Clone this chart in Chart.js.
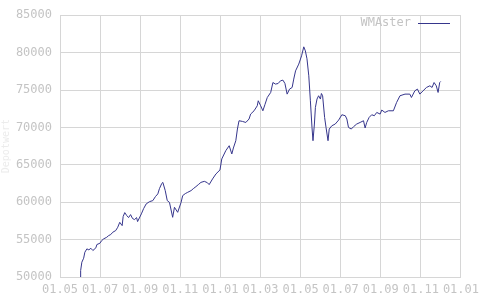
<!DOCTYPE html>
<html>
<head>
<meta charset="utf-8">
<script src="https://cdn.jsdelivr.net/npm/chart.js@4.4.0/dist/chart.umd.min.js"></script>
<style>
  html, body { margin: 0; padding: 0; background: #fff; }
  #wrap { width: 485px; height: 300px; }
</style>
</head>
<body>
<div id="wrap"><canvas id="depotChart"></canvas></div>
<script>
// Data (month offset from the first 01.05, value)
const seriesName = "WMAster";
const tickLabels = ["01.05", "01.07", "01.09", "01.11", "01.01", "01.03", "01.05", "01.07", "01.09", "01.11", "01.01"];
const months = [
  1.01, 1.03, 1.09, 1.18, 1.24, 1.34, 1.44, 1.54, 1.64, 1.79, 1.84, 1.99, 2.08, 2.18, 2.33, 2.43, 2.53, 2.63, 2.78, 2.88,
  2.98, 3.10, 3.15, 3.23, 3.33, 3.42, 3.52, 3.62, 3.72, 3.82, 3.87, 4.06, 4.17, 4.30, 4.47, 4.63, 4.76, 4.88, 4.96, 5.08,
  5.13, 5.25, 5.35, 5.46, 5.62, 5.71, 5.87, 6.04, 6.12, 6.25, 6.37, 6.54, 6.65, 6.78, 6.90, 7.03, 7.20, 7.35, 7.44, 7.61,
  7.78, 7.98, 8.07, 8.27, 8.44, 8.57, 8.65, 8.77, 8.85, 8.93, 9.10, 9.27, 9.43, 9.51, 9.68, 9.84, 9.89, 10.01, 10.12, 10.22,
  10.34, 10.51, 10.62, 10.75, 10.88, 11.00, 11.12, 11.22, 11.33, 11.45, 11.58, 11.66, 11.75, 11.91, 12.05, 12.16, 12.24, 12.32, 12.41, 12.49,
  12.57, 12.62, 12.69, 12.74, 12.82, 12.90, 12.99, 13.04, 13.10, 13.20, 13.27, 13.37, 13.43, 13.56, 13.73, 13.90, 14.06, 14.23, 14.31, 14.39,
  14.53, 14.64, 14.80, 14.97, 15.14, 15.22, 15.30, 15.42, 15.55, 15.68, 15.80, 15.97, 16.05, 16.21, 16.38, 16.63, 16.79, 16.96, 17.21, 17.45,
  17.53, 17.70, 17.83, 17.95, 18.11, 18.28, 18.45, 18.56, 18.66, 18.77, 18.86, 18.94, 18.99
];
const values = [
  50000, 50870, 51980, 52510, 53310, 53760, 53630, 53840, 53540, 53900, 54340, 54510, 54870, 55100, 55310, 55540, 55670, 55980, 56210, 56650,
  57310, 56870, 58080, 58610, 58210, 57940, 58340, 57810, 57680, 57940, 57410, 58440, 59140, 59770, 60080, 60210, 60750, 61110, 61810, 62520,
  62650, 61550, 60210, 59980, 57980, 59320, 58650, 59980, 60880, 61150, 61320, 61550, 61810, 62080, 62350, 62650, 62790, 62610, 62350, 63110,
  63780, 64310, 65780, 66890, 67550, 66450, 67250, 68220, 69780, 70890, 70800, 70660, 71120, 71780, 72220, 72890, 73560, 72890, 72220, 73030,
  74000, 74670, 76000, 75790, 75870, 76230, 76320, 75870, 74450, 75120, 75340, 76460, 77560, 78460, 79570, 80770, 80230, 79170, 76900, 73560,
  70000, 68220, 70450, 72670, 73790, 74230, 73790, 74530, 74230, 71330, 70000, 68220, 69780, 70220, 70450, 70980, 71690, 71560, 71120, 70000,
  69780, 70090, 70450, 70660, 70890, 69920, 70660, 71330, 71690, 71560, 72000, 71780, 72320, 72000, 72220, 72220, 73330, 74230, 74450, 74450,
  74000, 74890, 75120, 74450, 74890, 75340, 75560, 75340, 76000, 75560, 74670, 76000, 76140
];

const points = months.map((m, i) => ({ x: m, y: values[i] }));
const lineColor = "#36368c";
const textColor = "#c4c4c4";
const gridColor = "#d6d6d6";
const monoFont = { family: "'DejaVu Sans Mono', monospace", size: 12 };

// legend drawn inside the plot, text left of the line sample
const innerLegend = {
  id: "innerLegend",
  afterDraw(chart) {
    const ctx = chart.ctx;
    ctx.save();
    ctx.font = "12px 'DejaVu Sans Mono', monospace";
    ctx.fillStyle = textColor;
    ctx.textBaseline = "middle";
    ctx.textAlign = "right";
    ctx.fillText(seriesName, 411, 23);
    ctx.strokeStyle = lineColor;
    ctx.lineWidth = 1;
    ctx.beginPath();
    ctx.moveTo(418, 23.5);
    ctx.lineTo(450, 23.5);
    ctx.stroke();
    ctx.restore();
  }
};

new Chart(document.getElementById("depotChart"), {
  type: "line",
  data: {
    datasets: [{
      label: seriesName,
      data: points,
      borderColor: lineColor,
      borderWidth: 1,
      pointRadius: 0,
      tension: 0,
      fill: false
    }]
  },
  options: {
    responsive: true,
    maintainAspectRatio: false,
    animation: false,
    layout: { padding: { left: 0, top: 15, right: 22, bottom: 0 } },
    plugins: {
      legend: { display: false },
      tooltip: { enabled: false }
    },
    scales: {
      x: {
        type: "linear",
        min: 0,
        max: 20,
        afterFit: (s) => { s.height = 23; },
        afterBuildTicks: (s) => { s.ticks = tickLabels.map((t, i) => ({ value: i * 2 })); },
        ticks: {
          autoSkip: false,
          maxRotation: 0,
          padding: 6,
          color: textColor,
          font: monoFont,
          callback: (v) => tickLabels[Math.round(v / 2)]
        },
        grid: { color: gridColor, drawTicks: false },
        border: { color: gridColor }
      },
      y: {
        min: 50000,
        max: 85000,
        afterFit: (s) => { s.width = 60; },
        ticks: {
          stepSize: 5000,
          padding: 8,
          color: textColor,
          font: monoFont,
          callback: (v) => String(v)
        },
        title: {
          display: true,
          text: "Depotwert",
          color: "#ececec",
          font: { family: "'DejaVu Sans Mono', monospace", size: 10 },
          padding: 0
        },
        grid: { color: gridColor, drawTicks: false },
        border: { color: gridColor }
      }
    }
  },
  plugins: [innerLegend]
});
</script>
</body>
</html>
